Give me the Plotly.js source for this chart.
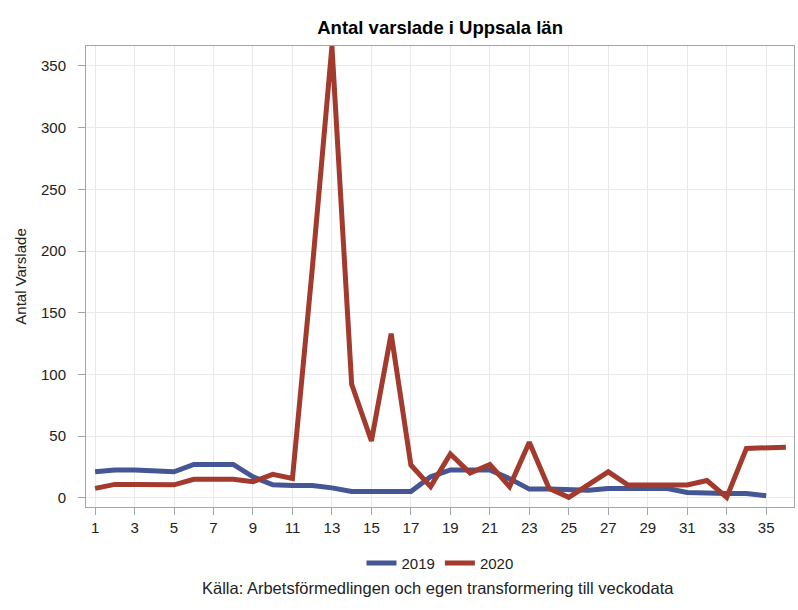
<!DOCTYPE html>
<html>
<head>
<meta charset="utf-8">
<script src="https://cdn.plot.ly/plotly-3.0.1.min.js"></script>
<style>html,body{margin:0;padding:0;background:#fff;}</style>
</head>
<body>
<div id="chart" style="width:798px;height:610px;"></div>
<script>
const weeks2019 = [1,2,3,4,5,6,7,8,9,10,11,12,13,14,15,16,17,18,19,20,21,22,23,24,25,26,27,28,29,30,31,32,33,34,35];
const values2019 = [21,22.5,22.5,22,21,27,27,27,17,10.5,10,10,8,5,5,5,5,17,22.5,22.5,22.5,15.5,7,7,7,6,7.5,7.5,7.5,7.5,4.3,3.4,3.4,3.4,1.7];
const weeks2020 = [1,2,3,4,5,6,7,8,9,10,11,12,13,14,15,16,17,18,19,20,21,22,23,24,25,26,27,28,29,30,31,32,33,34,35,36];
const values2020 = [7.6,10.8,10.8,10.5,10.5,15,15,15,13,19,15.7,185,366,92,46,133,26.5,9,35.5,20,27,9,45,7.6,0.3,11,21,10.3,10.3,10.3,10.3,14,0.3,40,40,41];
const tickWeeks = [1,3,5,7,9,11,13,15,17,19,21,23,25,27,29,31,33,35];
const yTicks = [0,50,100,150,200,250,300,350];

const font = 'Liberation Sans, Arial, sans-serif';
const traces = [
  {x: weeks2019, y: values2019, name: '2019', type: 'scatter', mode: 'lines',
   line: {color: '#445694', width: 5}},
  {x: weeks2020, y: values2020, name: '2020', type: 'scatter', mode: 'lines',
   line: {color: '#A23A2E', width: 5}}
];
const layout = {
  width: 798, height: 610,
  margin: {l: 86, r: 4, t: 46, b: 103},
  paper_bgcolor: '#ffffff', plot_bgcolor: '#ffffff',
  font: {family: font, size: 15, color: '#222'},
  title: {text: '<b>Antal varslade i Uppsala län</b>', x: 0.5515, xanchor: 'center', y: 0.955, yanchor: 'middle',
          font: {family: font, size: 18.5, color: '#000'}},
  showlegend: true,
  legend: {orientation: 'h', x: 0.5, xanchor: 'center', y: -0.122, yanchor: 'middle',
           font: {family: font, size: 15, color: '#222'}, itemwidth: 30, tracegroupgap: 0},
  xaxis: {range: [0.54, 36.41], tickvals: tickWeeks, ticktext: tickWeeks.map(String),
          showgrid: true, gridcolor: '#e9e9e9', gridwidth: 1,
          ticks: 'outside', ticklen: 7, tickcolor: '#a0a6ad',
          showline: true, linecolor: '#a0a6ad', linewidth: 1, mirror: true,
          zeroline: false, tickfont: {family: font, size: 15, color: '#222'}},
  yaxis: {range: [-7.5, 366.2], tickvals: yTicks, ticktext: yTicks.map(String),
          showgrid: true, gridcolor: '#e9e9e9', gridwidth: 1,
          ticks: 'outside', ticklen: 7, tickcolor: '#a0a6ad', ticklabelstandoff: 9,
          showline: true, linecolor: '#a0a6ad', linewidth: 1, mirror: true,
          zeroline: false, tickfont: {family: font, size: 15, color: '#222'},
          title: {text: 'Antal Varslade', standoff: 10, font: {family: font, size: 15, color: '#222'}}},
  annotations: [
    {text: 'Källa: Arbetsförmedlingen och egen transformering till veckodata', xref: 'paper', yref: 'paper',
     x: 0.497, y: -0.176, xanchor: 'center', yanchor: 'middle', showarrow: false,
     font: {family: font, size: 16.5, color: '#222'}}
  ]
};
Plotly.newPlot('chart', traces, layout, {displayModeBar: false, staticPlot: true});
</script>
</body>
</html>
